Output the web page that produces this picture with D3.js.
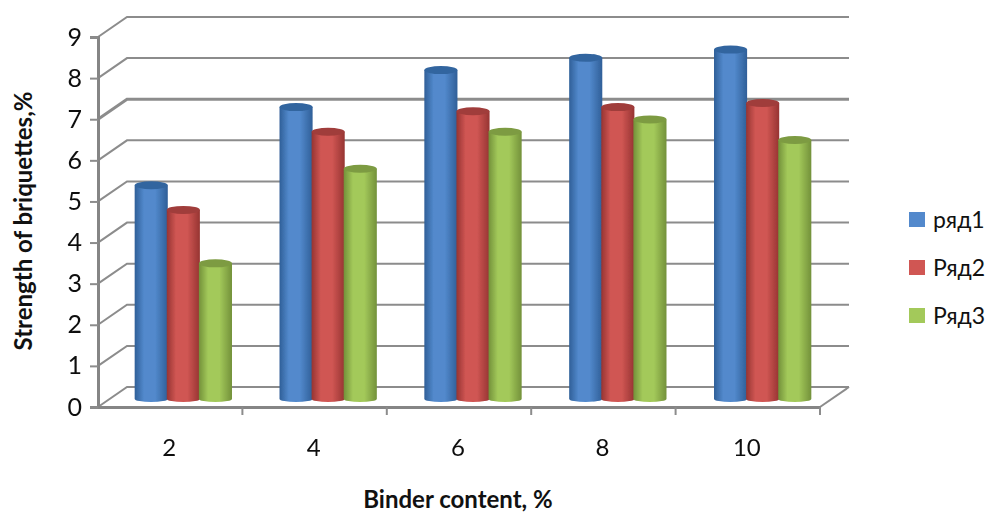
<!DOCTYPE html>
<html>
<head>
<meta charset="utf-8">
<script src="https://cdn.jsdelivr.net/npm/d3@7"></script>
<style>
  html, body { margin: 0; padding: 0; background: #fff; }
  text { font-family: Lato, "Open Sans", sans-serif; fill: #111; }
</style>
</head>
<body>
<div id="chart"></div>
<script>
var categories = ["2", "4", "6", "8", "10"];
var seriesNames = ["ряд1", "Ряд2", "Ряд3"];
var row1 = [5.2, 7.1, 8.0, 8.3, 8.5];
var row2 = [4.6, 6.5, 7.0, 7.1, 7.2];
var row3 = [3.3, 5.6, 6.5, 6.8, 6.3];
var yTicks = [0, 1, 2, 3, 4, 5, 6, 7, 8, 9];

var seriesValues = [row1, row2, row3];
// edge, middle and lid colour for each cylinder
var seriesColors = [
  ["#2f5f98", "#5289cc", "#33659f"],
  ["#963432", "#d05653", "#a03c3a"],
  ["#73913a", "#a3c95a", "#7d9b42"]
];

var width = 987, height = 514;
var depthX = 29, depthY = -20;

var svg = d3.select("#chart").append("svg")
  .attr("width", width)
  .attr("height", height)
  .style("display", "block");

var defs = svg.append("defs");
defs.append("filter").attr("id", "soft")
  .append("feGaussianBlur").attr("stdDeviation", 0.6);

seriesColors.forEach(function(c, i) {
  var grad = defs.append("linearGradient").attr("id", "cyl" + i);
  grad.append("stop").attr("offset", "0%").attr("stop-color", c[0]);
  grad.append("stop").attr("offset", "28%").attr("stop-color", c[1]);
  grad.append("stop").attr("offset", "62%").attr("stop-color", c[1]);
  grad.append("stop").attr("offset", "100%").attr("stop-color", c[0]);
});

// scales: front of the floor, and the plane the bars stand in
var yFront = d3.scaleLinear().domain([0, 9]).range([407, 37]);
var yBar = d3.scaleLinear().domain([0, 9]).range([399, 29]);
var x = d3.scaleBand().domain(categories).range([98, 820]);
var xBars = d3.scaleBand().domain(categories).range([111.5, 833.5]).paddingInner(0.335).paddingOuter(0.16);
var xInner = d3.scaleBand().domain(d3.range(3)).range([0, xBars.bandwidth()]);

var plot = svg.append("g").attr("filter", "url(#soft)");

// walls: slanted part and back gridline
var grid = plot.append("g").attr("fill", "none").attr("stroke", "#8c8c8c");
grid.selectAll("path.wall")
  .data(yTicks)
  .enter()
  .append("path")
  .attr("class", "wall")
  .attr("stroke-width", d => d == 7 ? 3 : 2)
  .attr("d", d => {
    var y = yFront(d);
    return "M98," + y + "L" + (98 + depthX) + "," + (y + depthY) + "H" + (820 + depthX);
  });

// the floor's right hand edge
grid.append("path")
  .attr("stroke-width", 2)
  .attr("d", "M820," + yFront(0) + "L" + (820 + depthX) + "," + (yFront(0) + depthY));

// left axis
var yAxis = plot.append("g")
  .attr("transform", "translate(98,0)")
  .call(d3.axisLeft(yFront).tickValues(yTicks).tickSize(8).tickPadding(8).tickFormat(d3.format("d")));
yAxis.select(".domain").attr("stroke", "#858585").attr("stroke-width", 3);
yAxis.selectAll(".tick line").attr("stroke", "#8c8c8c").attr("stroke-width", 2);
yAxis.selectAll("text").style("font-size", "25px").attr("fill", "#111");

// bottom axis, ticks sit between the categories
var xAxis = plot.append("g")
  .attr("transform", "translate(0," + yFront(0) + ")")
  .call(d3.axisBottom(x).tickSize(0).tickPadding(32));
xAxis.select(".domain").attr("stroke", "#858585").attr("stroke-width", 3);
xAxis.selectAll("text").style("font-size", "24px").attr("fill", "#111")
  .attr("dx", "-1");

plot.append("g")
  .selectAll("line")
  .data(categories)
  .enter()
  .append("line")
  .attr("x1", d => x(d) + x.bandwidth())
  .attr("x2", d => x(d) + x.bandwidth())
  .attr("y1", yFront(0))
  .attr("y2", yFront(0) + 8)
  .attr("stroke", "#8c8c8c")
  .attr("stroke-width", 2);

// cylinders
var groups = plot.selectAll("g.cat")
  .data(categories)
  .enter()
  .append("g")
  .attr("class", "cat")
  .attr("transform", d => "translate(" + xBars(d) + ",0)");

var ry = 4;
seriesValues.forEach(function(values, s) {
  var bw = xInner.bandwidth() + 1;
  groups.append("path")
    .attr("fill", "url(#cyl" + s + ")")
    .attr("d", (d, i) => {
      var left = xInner(s), top = yBar(values[i]), bottom = yBar(0);
      return "M" + left + "," + top + "V" + bottom +
        "A" + bw / 2 + "," + 3 + " 0 0 0 " + (left + bw) + "," + bottom +
        "V" + top + "Z";
    });
  // the lids
  groups.append("ellipse")
    .attr("cx", xInner(s) + bw / 2)
    .attr("cy", (d, i) => yBar(values[i]))
    .attr("rx", bw / 2)
    .attr("ry", ry)
    .attr("fill", seriesColors[s][2]);
});

// axis titles
svg.append("text")
  .attr("transform", "translate(32,221) rotate(-90)")
  .attr("text-anchor", "middle")
  .style("font-size", "24px")
  .style("font-weight", "bold")
  .text("Strength of briquettes,%");

svg.append("text")
  .attr("x", 458)
  .attr("y", 508)
  .attr("text-anchor", "middle")
  .style("font-size", "24px")
  .style("font-weight", "bold")
  .text("Binder content, %");

// legend
var yLegend = d3.scalePoint().domain(seriesNames).range([220, 316]);
var legend = svg.selectAll("g.legend")
  .data(seriesNames)
  .enter()
  .append("g")
  .attr("class", "legend")
  .attr("transform", d => "translate(909," + yLegend(d) + ")");

legend.append("rect")
  .attr("y", -8)
  .attr("width", 16)
  .attr("height", 15)
  .attr("fill", (d, i) => seriesColors[i][1])
  .attr("filter", "url(#soft)");

legend.append("text")
  .attr("x", 24)
  .attr("y", 8)
  .style("font-size", "23px")
  .text(d => d);
</script>
</body>
</html>
